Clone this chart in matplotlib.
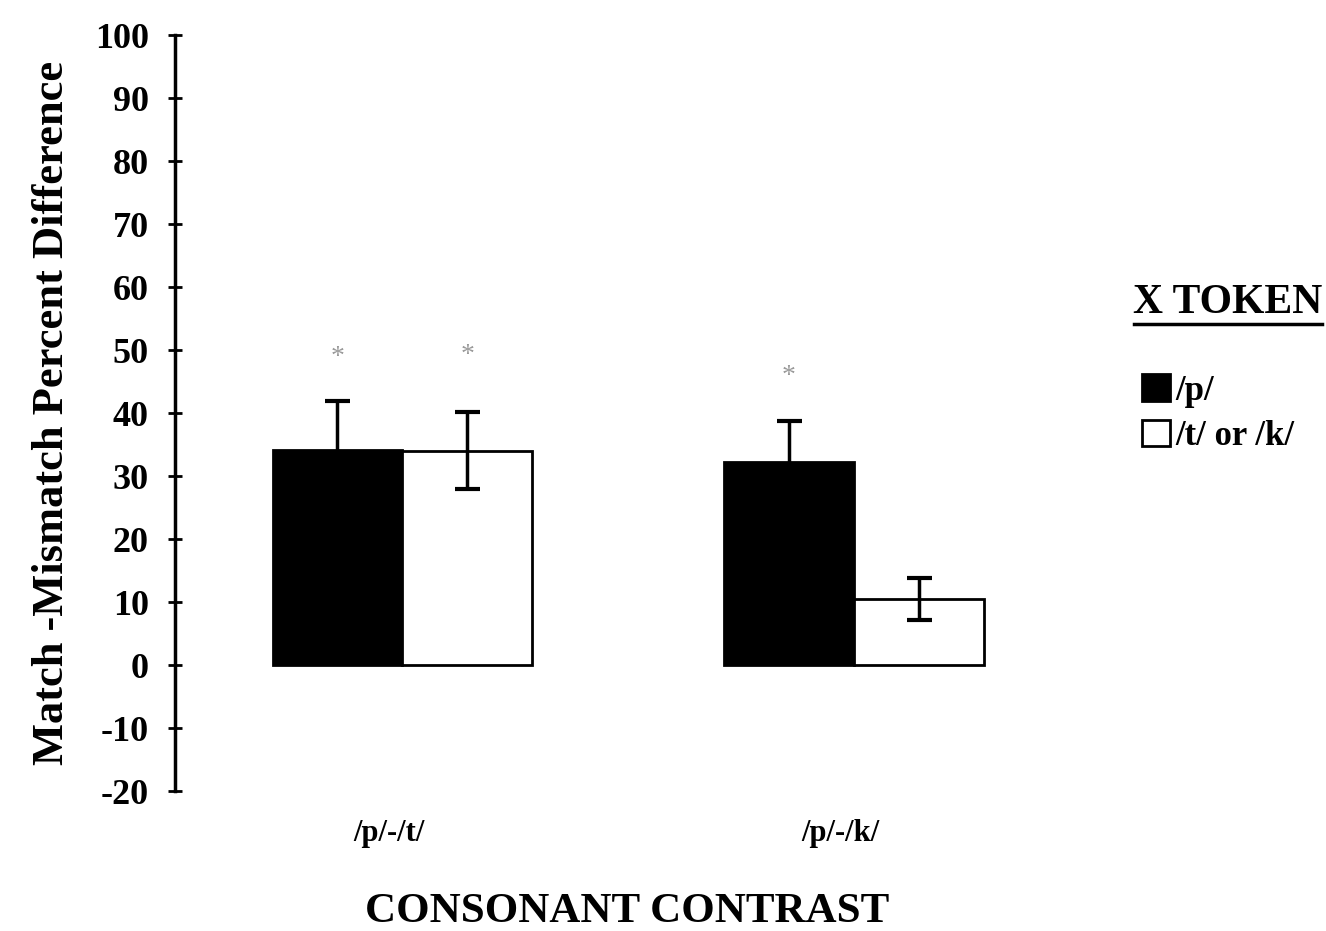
import matplotlib.pyplot as plt
import numpy as np
from matplotlib.lines import Line2D

contrasts = ["/p/-/t/", "/p/-/k/"]
series_names = ["/p/", "/t/ or /k/"]
p_means = [34.2, 32.3]
p_err = [7.7, 6.5]
tk_means = [34.1, 10.5]
tk_err = [6.1, 3.3]
p_signif = [True, True]
tk_signif = [True, False]
yticks = list(range(-20, 101, 10))

plt.rcParams["font.family"] = ["Liberation Serif", "DejaVu Serif"]
plt.rcParams["font.weight"] = "bold"

fig = plt.figure(figsize=(13.26, 9.31), dpi=100)
ax = fig.add_axes([0.132, 0.150, 0.682, 0.812])

x = np.arange(len(contrasts))
w = 0.288
ax.bar(x - w / 2, p_means, w, color="black", edgecolor="black", linewidth=2, label=series_names[0])
ax.bar(x + w / 2, tk_means, w, color="white", edgecolor="black", linewidth=2, label=series_names[1])
ax.errorbar(x - w / 2, p_means, yerr=p_err, fmt="none", ecolor="black", elinewidth=2.5, capsize=9, capthick=3)
ax.errorbar(x + w / 2, tk_means, yerr=tk_err, fmt="none", ecolor="black", elinewidth=2.5, capsize=9, capthick=3)

for xi, m, e, s in zip(x - w / 2, p_means, p_err, p_signif):
    if s:
        ax.text(xi, m + e + 7, "*", ha="center", va="center", fontsize=20, color="#999999", fontweight="normal")
for xi, m, e, s in zip(x + w / 2, tk_means, tk_err, tk_signif):
    if s:
        ax.text(xi, m + e + 9, "*", ha="center", va="center", fontsize=20, color="#999999", fontweight="normal")

ax.set_ylim(-20, 100)
ax.set_xlim(-0.504, 1.50)
ax.set_yticks(yticks)
ax.set_yticklabels([str(t) for t in yticks], fontsize=26, fontweight="bold")
ax.tick_params(axis="y", direction="inout", length=10, width=2, pad=14)
ax.set_xticks(x - 0.03)
ax.set_xticklabels(contrasts, fontsize=22, fontweight="bold")
ax.tick_params(axis="x", length=0, pad=20)
for side in ["top", "right", "bottom"]:
    ax.spines[side].set_visible(False)
ax.spines["left"].set_linewidth(2.5)

ax.set_ylabel("Match -Mismatch Percent Difference", fontsize=32, fontweight="bold", labelpad=16)
ax.set_xlabel("CONSONANT CONTRAST", fontsize=31, fontweight="bold", labelpad=32)

fig.text(0.926, 0.675, "X TOKEN", ha="center", va="center", fontsize=30, fontweight="bold")
fig.add_artist(Line2D([0.855, 0.997], [0.652, 0.652], color="black", linewidth=2.5))
ax.legend(loc="upper left", bbox_to_anchor=(0.851, 0.613), bbox_transform=fig.transFigure,
          frameon=False, prop={"size": 25, "weight": "bold"}, handlelength=0.8, handleheight=0.8,
          handletextpad=0.15, labelspacing=0.35, borderaxespad=0)

fig.savefig("out.png", dpi=100)
